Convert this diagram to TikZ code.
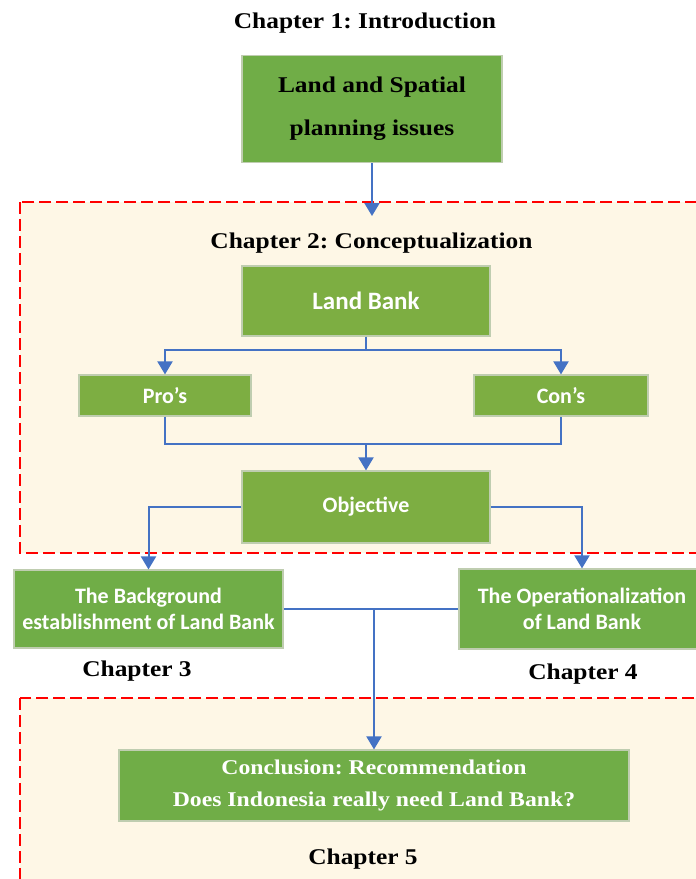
\documentclass[tikz,border=0pt]{standalone}
\usepackage{fontspec}
\usetikzlibrary{arrows.meta}
\frenchspacing
\newfontfamily\ttlfont[FakeStretch=1.13]{Liberation Serif}
\newfontfamily\boxfont{Carlito}
\definecolor{gA}{HTML}{70AD47}
\definecolor{gB}{HTML}{7DAE42}
\definecolor{bord}{HTML}{BFCDB0}
\definecolor{cream}{HTML}{FEF7E6}
\definecolor{conn}{HTML}{4472C4}
\definecolor{dred}{HTML}{FF0000}
\tikzset{
  region/.style={fill=cream, draw=dred, line width=1.8pt, dash pattern=on 12pt off 5pt},
  gbox/.style={fill=gA, draw=bord, line width=1.2pt, inner sep=0pt, align=center},
  lbox/.style={gbox, fill=gB},
  sanstext/.style={font=\boxfont\bfseries\fontsize{22}{26}\selectfont, text=white},
  serifblack/.style={font=\ttlfont\bfseries\fontsize{22.5}{43}\selectfont, text=black},
  serifwhite/.style={font=\ttlfont\bfseries\fontsize{21}{32}\selectfont, text=white},
  title/.style={font=\ttlfont\bfseries\fontsize{22.5}{27}\selectfont, text=black, anchor=base, inner sep=0pt},
  conn/.style={draw=conn, line width=2pt},
  arr/.style={conn, -{Triangle[width=15pt,length=13pt]}}
}
\begin{document}
\begin{tikzpicture}[x=1pt,y=-1pt]
\clip (0,0) rectangle (696,879);
\fill[white] (0,0) rectangle (696,879);
% regions
\draw[region] (20,202) rectangle (730,553);
\draw[region] (20,698) rectangle (730,920);
% titles
\node[title] (t1) at (365,28) {Chapter 1: Introduction};
\node[title] (t2) at (371.5,248) {Chapter 2: Conceptualization};
\node[title] (t3) at (137,676) {Chapter 3};
\node[title] (t4) at (583,679) {Chapter 4};
\node[title] (t5) at (363,864) {Chapter 5};
% boxes
\node[gbox, serifblack, minimum width=260pt, minimum height=107pt] (b1) at (372,109) {Land and Spatial\\planning issues};
\node[lbox, font=\boxfont\bfseries\fontsize{25}{30}\selectfont, text=white, minimum width=248pt, minimum height=70pt] (lb) at (366,301) {Land Bank};
\node[lbox, sanstext, minimum width=172pt, minimum height=41pt] (pros) at (165,395.5) {Pro’s};
\node[lbox, sanstext, minimum width=174pt, minimum height=41pt] (cons) at (561,395.5) {Con’s};
\node[lbox, sanstext, minimum width=248pt, minimum height=72pt] (obj) at (366,507) {Objective};
\node[gbox, sanstext, minimum width=269pt, minimum height=78pt] (bg) at (148.5,609) {The Background\\establishment of Land Bank};
\node[gbox, sanstext, minimum width=246pt, minimum height=80pt] (op) at (582,609) {The Operationalization\\of Land Bank};
\node[gbox, serifwhite, minimum width=510pt, minimum height=71pt] (conc) at (374,785.5) {Conclusion: Recommendation\\Does Indonesia really need Land Bank?};
% connectors
\coordinate (c2in) at (372,216);
\draw[arr] (b1.south) -- (c2in);
\coordinate (lbj) at (366,350);
\draw[arr] (lb.south) -- (lbj) -| (pros.north);
\draw[arr] (lbj) -| (cons.north);
\coordinate (pcj) at (366,444);
\draw[conn] (pros.south) |- (pcj) -| (cons.south);
\draw[arr] (pcj) -- (obj.north);
\draw[arr] (obj.west) -| (bg.north);
\draw[arr] (obj.east) -| (op.north);
\coordinate (bj) at (374,609);
\draw[conn] (bg.east) -- (op.west);
\draw[arr] (bj) -- (conc.north);
\end{tikzpicture}
\end{document}
